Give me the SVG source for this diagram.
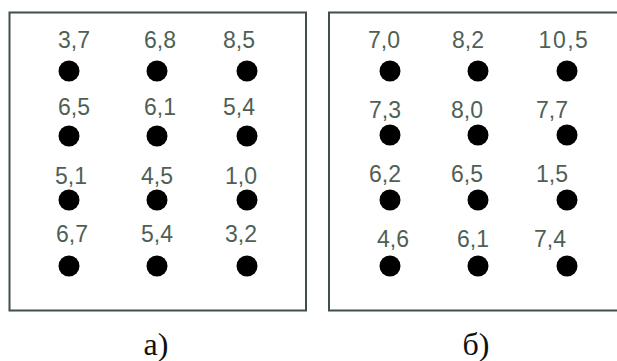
<svg xmlns="http://www.w3.org/2000/svg" width="617" height="361" viewBox="0 0 617 361">
<style>
.box{fill:#fff;stroke:#3f5048;stroke-width:2}
.dot{fill:#000}
.v{font-family:"Liberation Sans",Arial,sans-serif;font-size:23px;fill:#4f5f55;text-anchor:middle}
.cap{font-family:"Liberation Serif","Times New Roman",serif;font-size:32px;fill:#111;text-anchor:middle}
</style>
<rect width="617" height="361" fill="#fff"/>
<g id="panel-a">
<rect class="box" x="9.5" y="12.5" width="296.5" height="298"/>
<g id="a-nodes">
<circle class="dot" cx="69" cy="71" r="10.5"/><circle class="dot" cx="157" cy="71" r="10.5"/><circle class="dot" cx="247" cy="71" r="10.5"/>
<circle class="dot" cx="69" cy="136" r="10.5"/><circle class="dot" cx="157" cy="136" r="10.5"/><circle class="dot" cx="247" cy="136" r="10.5"/>
<circle class="dot" cx="69" cy="200" r="10.5"/><circle class="dot" cx="157" cy="200" r="10.5"/><circle class="dot" cx="247" cy="200" r="10.5"/>
<circle class="dot" cx="69" cy="266" r="10.5"/><circle class="dot" cx="157" cy="266" r="10.5"/><circle class="dot" cx="247" cy="266" r="10.5"/>
</g>
<g id="a-labels">
<text class="v" x="74" y="48">3,7</text><text class="v" x="160" y="48">6,8</text><text class="v" x="239" y="48">8,5</text>
<text class="v" x="74" y="115">6,5</text><text class="v" x="160" y="115">6,1</text><text class="v" x="239" y="115">5,4</text>
<text class="v" x="71" y="184">5,1</text><text class="v" x="157" y="184">4,5</text><text class="v" x="241" y="184">1,0</text>
<text class="v" x="72" y="242">6,7</text><text class="v" x="157" y="242">5,4</text><text class="v" x="241" y="242">3,2</text>
</g>
</g>
<g id="panel-b">
<rect class="box" x="329" y="12.5" width="300" height="298"/>
<g id="b-nodes">
<circle class="dot" cx="390" cy="71" r="10.5"/><circle class="dot" cx="478" cy="71" r="10.5"/><circle class="dot" cx="567" cy="71" r="10.5"/>
<circle class="dot" cx="390" cy="135" r="10.5"/><circle class="dot" cx="478" cy="135" r="10.5"/><circle class="dot" cx="567" cy="135" r="10.5"/>
<circle class="dot" cx="390" cy="200" r="10.5"/><circle class="dot" cx="478" cy="200" r="10.5"/><circle class="dot" cx="567" cy="200" r="10.5"/>
<circle class="dot" cx="390" cy="266" r="10.5"/><circle class="dot" cx="478" cy="266" r="10.5"/><circle class="dot" cx="567" cy="266" r="10.5"/>
</g>
<g id="b-labels">
<text class="v" x="384" y="48">7,0</text><text class="v" x="468" y="48">8,2</text><text class="v" x="564" y="48" letter-spacing="1.5">10,5</text>
<text class="v" x="385" y="118">7,3</text><text class="v" x="467" y="118">8,0</text><text class="v" x="552" y="118">7,7</text>
<text class="v" x="385" y="182">6,2</text><text class="v" x="467" y="182">6,5</text><text class="v" x="552" y="182">1,5</text>
<text class="v" x="393" y="247">4,6</text><text class="v" x="473" y="247">6,1</text><text class="v" x="550" y="247">7,4</text>
</g>
</g>
<g id="connectors"/>
<text id="cap-a" class="cap" x="156" y="355">a)</text>
<text id="cap-b" class="cap" x="476" y="355">б)</text>
</svg>
